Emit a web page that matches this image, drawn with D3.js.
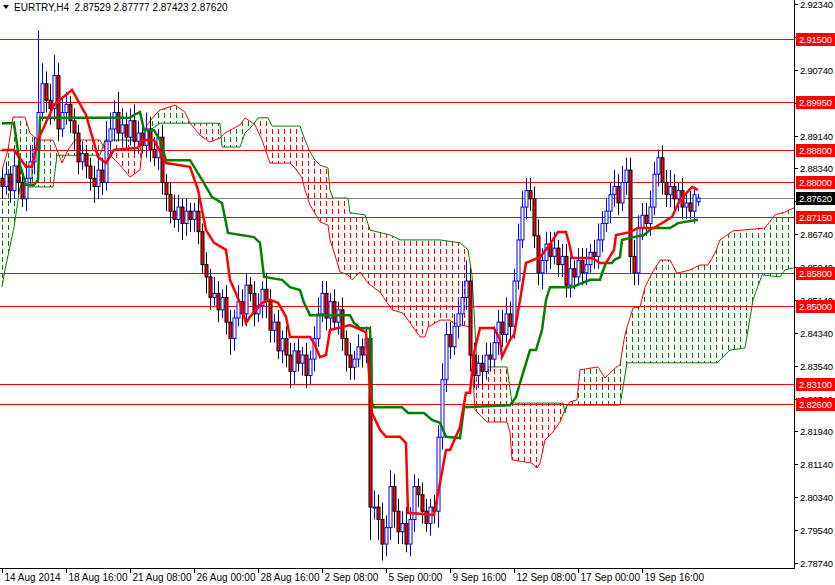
<!DOCTYPE html>
<html><head><meta charset="utf-8">
<script src="https://cdn.jsdelivr.net/npm/d3@7"></script>
<style>body{margin:0;background:#fff}svg{display:block;font-family:"Liberation Sans",Arial,sans-serif}</style>
</head><body><svg id="c" width="835" height="585"></svg>
<script>
const title = "EURTRY,H4  2.87529 2.87777 2.87423 2.87620";
const closes = [
2.879,2.882,2.878,2.884,2.880,2.876,2.881,2.885,
2.888,2.897,2.904,2.900,2.898,2.906,2.893,2.897,
2.899,2.895,2.892,2.885,2.887,2.884,2.881,2.879,
2.883,2.880,2.890,2.893,2.897,2.892,2.894,2.891,
2.895,2.890,2.892,2.889,2.893,2.888,2.886,2.891,
2.880,2.877,2.873,2.871,2.874,2.870,2.873,2.871,
2.873,2.868,2.860,2.857,2.852,2.853,2.849,2.852,
2.846,2.842,2.847,2.851,2.848,2.855,2.853,2.848,
2.850,2.854,2.851,2.844,2.846,2.839,2.842,2.838,
2.834,2.839,2.836,2.838,2.833,2.837,2.842,2.848,
2.853,2.847,2.851,2.846,2.849,2.842,2.838,2.835,
2.837,2.840,2.838,2.842,2.801,2.801,2.798,2.792,
2.796,2.806,2.800,2.795,2.797,2.792,2.798,2.806,
2.804,2.800,2.797,2.801,2.800,2.818,2.832,2.843,
2.840,2.845,2.848,2.852,2.856,2.838,2.833,2.836,
2.834,2.838,2.837,2.841,2.846,2.843,2.848,2.845,
2.856,2.866,2.874,2.878,2.876,2.867,2.858,2.861,
2.865,2.862,2.864,2.860,2.862,2.855,2.859,2.857,
2.861,2.858,2.860,2.863,2.862,2.866,2.870,2.873,
2.877,2.879,2.875,2.880,2.883,2.862,2.858,2.869,
2.872,2.870,2.874,2.882,2.886,2.880,2.877,2.879,
2.876,2.878,2.874,2.875,2.873,2.877,2.8762];
const wickUp = [2,3,2,4,2,3,3,4, 3,20,5,3,4,5,3,4, 3,2,3,2,3,2,2,3, 4,3,5,4,3,5,4,3,
3,4,3,3,4,3,3,2, 3,2,3,4,3,2,3,2, 2,3,2,3,2,4,3,2, 3,3,2,4,3,3,2,3, 3,2,4,3,2,3,2,3,
3,2,3,2,3,2,3,4, 3,3,2,3,2,3,2,3, 2,3,2,3,3,4,3,4, 3,4,3,3,3,4,3,3, 2,3,3,2,3,3,4,3,
3,3,3,4,5,3,3,2, 2,3,3,4,3,3,4,3, 3,4,4,3,3,3,4,3, 3,3,4,2,3,3,3,2, 3,3,4,2,3,4,3,3,
3,4,3,4,3,3,4,3, 3,3,4,3,2,3,3,4, 3,2,3,2,3,2,1];
const wickDn = [3,2,3,2,3,2,3,2, 3,3,2,3,4,3,3,2, 3,3,4,3,2,3,3,4, 3,3,2,3,3,2,3,3,
2,3,3,2,3,3,2,3, 3,4,3,2,3,4,3,3, 3,3,2,4,3,2,3,2, 3,4,3,2,3,3,2,3, 2,3,4,3,3,2,3,3,
4,3,2,3,3,2,3,2, 2,3,3,2,3,3,4,3, 3,2,3,2,8,3,5,4, 3,3,4,3,3,2,3,3, 3,3,2,3,3,4,3,3,
3,2,3,3,3,4,3,3, 3,2,3,2,3,3,2,3, 3,2,2,3,3,3,3,4, 3,3,2,3,3,3,3,3, 2,3,3,2,3,3,3,2,
3,3,3,2,3,4,3,3, 3,3,3,2,3,3,3,3, 3,3,3,3,2,3,1];
const tenkan = [[0,2.8879],[3,2.8879],[6,2.8838],[7.5,2.8838],[9,2.8903],[13,2.8989],[17.5,2.9025],[21,2.8964],[24,2.8862],[26,2.8847],[28,2.8879],[34,2.8884],[35,2.8903],[38,2.8903],[41,2.8847],[47,2.8838],[49,2.8782],[51,2.8684],[53,2.8653],[56,2.8636],[57,2.8563],[59.5,2.8507],[61,2.8458],[62,2.8473],[65,2.8507],[67,2.8514],[69,2.8507],[71,2.8473],[72,2.8424],[77,2.8424],[78,2.8409],[79.5,2.8375],[81,2.8380],[82,2.8441],[87,2.8453],[91,2.8436],[92.5,2.8239],[94.5,2.8198],[96,2.8181],[99.5,2.8181],[101,2.8166],[101.5,2.7996],[108,2.7991],[109.5,2.8069],[111,2.8149],[112,2.8149],[114.5,2.8205],[116,2.8288],[117,2.8288],[118,2.8385],[119.5,2.8446],[123,2.8446],[124.5,2.8417],[125,2.8375],[127,2.8417],[128,2.8429],[129.5,2.8514],[131,2.8604],[134.5,2.8618],[136.5,2.8643],[139,2.8679],[141,2.8679],[142,2.8643],[142.5,2.8616],[147.5,2.8616],[149.5,2.8604],[151,2.8604],[153,2.8636],[153.5,2.8672],[157,2.8679],[159,2.8689],[163,2.8689],[167.5,2.8716],[169.5,2.8757],[172.5,2.8789],[174,2.8782]];
const kijun = [[0,2.8944],[3,2.8944],[4.5,2.8842],[6,2.8794],[8,2.8794],[9,2.8806],[9.5,2.8957],[32,2.8957],[33,2.8964],[34.5,2.8971],[35.5,2.8927],[38,2.8927],[39.5,2.8903],[41,2.8854],[47,2.8854],[50,2.8806],[52.5,2.8764],[55,2.8750],[55.5,2.8726],[56.5,2.8677],[63,2.8667],[64.5,2.8653],[65.5,2.8570],[70,2.8563],[72,2.8545],[74.5,2.8538],[75.5,2.8507],[77,2.8477],[87,2.8477],[88,2.8458],[89.5,2.8445],[92,2.8445],[92.5,2.8263],[93,2.8253],[100,2.8253],[101.5,2.8239],[105.5,2.8239],[107.5,2.8222],[109.5,2.8215],[111,2.8181],[114.5,2.8178],[115.5,2.8253],[127,2.8258],[128.5,2.8278],[129.5,2.8312],[132,2.8392],[133.5,2.8392],[135,2.8441],[136,2.8514],[137,2.8545],[142.5,2.8545],[147,2.8563],[149.5,2.8563],[150,2.8579],[151,2.8604],[152.5,2.8604],[153,2.8611],[154.5,2.8618],[155,2.8660],[157,2.8665],[160.5,2.8672],[162.5,2.8689],[167,2.8689],[169,2.8701],[174,2.8709]];
const spanA = [[0,2.8830],[1.5,2.8879],[2.75,2.8959],[5.75,2.8959],[7,2.8920],[9,2.8903],[12.75,2.8903],[13.75,2.8879],[15,2.8847],[16.5,2.8879],[18.25,2.8903],[24.5,2.8903],[25.75,2.8879],[29.5,2.8842],[32,2.8813],[34.5,2.8830],[35.25,2.8903],[36.25,2.8940],[38.25,2.8964],[39.5,2.8976],[43.25,2.8988],[45.75,2.8971],[47,2.8944],[49.5,2.8915],[52,2.8898],[54.5,2.8908],[55.75,2.8920],[59.5,2.8940],[60.75,2.8957],[63.25,2.8940],[65,2.8903],[67,2.8847],[72,2.8847],[73.25,2.8835],[75,2.8811],[75.75,2.8781],[77,2.8745],[79.5,2.8704],[81.5,2.8696],[82,2.8660],[83.25,2.8623],[84.5,2.8582],[86.5,2.8575],[87.5,2.8563],[89.5,2.8582],[91.5,2.8555],[94.5,2.8533],[97.5,2.8490],[100.25,2.8482],[102.75,2.8448],[104.5,2.8424],[105.75,2.8424],[106.5,2.8448],[109.5,2.8465],[112,2.8465],[112.75,2.8458],[117,2.8448],[118.25,2.8246],[121.25,2.8217],[126.25,2.8217],[127,2.8193],[127.5,2.8125],[132.5,2.8117],[133.75,2.8105],[134.5,2.8117],[135.75,2.8173],[137.75,2.8193],[139.5,2.8217],[141,2.8253],[142,2.8266],[143.75,2.8271],[144.5,2.8344],[149,2.8351],[150.75,2.8324],[153.25,2.8348],[154.5,2.8356],[155.5,2.8417],[156.25,2.8448],[157.75,2.8494],[159.5,2.8497],[160.75,2.8545],[162.5,2.8579],[164.5,2.8611],[167,2.8611],[168.75,2.8579],[172,2.8587],[174.5,2.8599],[176.5,2.8599],[178.25,2.8628],[179.5,2.8660],[182.75,2.8682],[190.75,2.8689],[193.25,2.8721],[195.75,2.8728],[198,2.8738]];
const spanB = [[0,2.8545],[0.75,2.8587],[3,2.8691],[4.5,2.8789],[12.75,2.8789],[13.75,2.8866],[24.5,2.8866],[25.75,2.8903],[35.25,2.8903],[37,2.8927],[39.5,2.8944],[54.5,2.8944],[55,2.8886],[59.5,2.8886],[60.75,2.8920],[62.75,2.8940],[64,2.8957],[66.5,2.8957],[67.5,2.8937],[74.5,2.8937],[75.75,2.8903],[77,2.8874],[78.25,2.8854],[79.5,2.8842],[81.5,2.8835],[82,2.8781],[82.75,2.8762],[86.5,2.8762],[87,2.8726],[90.75,2.8721],[92,2.8684],[97,2.8672],[99.5,2.8660],[109.5,2.8660],[114.5,2.8653],[116.5,2.8636],[117.5,2.8575],[118.75,2.8351],[126.25,2.8351],[127.5,2.8263],[140.25,2.8263],[140.75,2.8239],[141.25,2.8258],[154.5,2.8258],[156.25,2.8361],[178.75,2.8361],[182,2.8392],[185.75,2.8397],[187.75,2.8514],[190,2.8575],[194.5,2.8570],[195.75,2.8587],[198,2.8592]];
const levels = [2.9150,2.8995,2.8880,2.8800,2.8715,2.8580,2.8500,2.8310,2.8260];
const lastPrice = 2.8762;
const yTicks = [2.9234,2.9154,2.9074,2.8994,2.8914,2.8834,2.8754,2.8674,2.8594,2.8514,2.8434,2.8354,2.8274,2.8194,2.8114,2.8034,2.7954,2.7874];
const xTickBars = [0,16,32,48,64,80,96,112,128,144,160];
const xTickLabels = ["14 Aug 2014","18 Aug 16:00","21 Aug 08:00","26 Aug 00:00","28 Aug 16:00","2 Sep 08:00","5 Sep 00:00","9 Sep 16:00","12 Sep 08:00","17 Sep 00:00","19 Sep 16:00"];

const svg = d3.select("#c");
const R = 794, B = 568;
const x = d3.scaleLinear().domain([0,174]).range([2,698]);
const y = d3.scaleLinear().domain([2.7874,2.9234]).range([563,4]);

const defs = svg.append("defs");
[["hr","#ff0000"],["hg","#008000"]].forEach(([id,c])=>{
  const p = defs.append("pattern").attr("id",id).attr("patternUnits","userSpaceOnUse").attr("width",6).attr("height",8);
  p.append("rect").attr("x",2).attr("y",1).attr("width",1).attr("height",5).attr("fill",c);
});
defs.append("clipPath").attr("id","plot").append("rect").attr("width",R).attr("height",B);
const g = svg.append("g").attr("clip-path","url(#plot)");

const interp = (pts,i)=>{ for(let k=1;k<pts.length;k++){ if(i<=pts[k][0]){const a=pts[k-1],b=pts[k];const t=(i-a[0])/(b[0]-a[0]||1);return a[1]+t*(b[1]-a[1]);} } return pts[pts.length-1][1]; };
const samples = d3.range(0,198.01,0.25).map(i=>({i,a:interp(spanA,i),b:interp(spanB,i)}));
g.append("path").datum(samples).attr("fill","url(#hr)")
  .attr("d",d3.area().x(d=>x(d.i)).y0(d=>y(d.a)).y1(d=>y(Math.max(d.a,d.b))));
g.append("path").datum(samples).attr("fill","url(#hg)")
  .attr("d",d3.area().x(d=>x(d.i)).y0(d=>y(d.b)).y1(d=>y(Math.max(d.a,d.b))));
const ln = d3.line().x(d=>x(d[0])).y(d=>y(d[1]));
g.append("path").datum(spanA).attr("fill","none").attr("stroke","#ff0000").attr("stroke-width",1).attr("d",ln);
g.append("path").datum(spanB).attr("fill","none").attr("stroke","#008000").attr("stroke-width",1).attr("d",ln);

levels.forEach(v=>g.append("line").attr("x1",0).attr("x2",R).attr("y1",Math.round(y(v))+0.5).attr("y2",Math.round(y(v))+0.5).attr("stroke","#ff0000"));
g.append("line").attr("x1",0).attr("x2",R).attr("y1",Math.round(y(lastPrice))+0.5).attr("y2",Math.round(y(lastPrice))+0.5).attr("stroke","#808080");

closes.forEach((c,i)=>{
  const o = i===0 ? 2.881 : (i===closes.length-1 ? 2.87529 : closes[i-1]);
  const up = c>=o;
  const hi = Math.max(o,c)+wickUp[i]*0.001, lo = Math.min(o,c)-wickDn[i]*0.001;
  const cx = Math.round(x(i))+0.5;
  g.append("line").attr("x1",cx).attr("x2",cx).attr("y1",y(hi)).attr("y2",y(lo)).attr("stroke",up?"#0000ff":"#000");
  const top=y(Math.max(o,c)), bot=y(Math.min(o,c));
  g.append("rect").attr("x",cx-1.5).attr("y",top).attr("width",3).attr("height",Math.max(1,bot-top))
    .attr("fill",up?"#fff":"#ff0000").attr("stroke",up?"#0000ff":"#000").attr("stroke-width",1);
});

g.append("path").datum(kijun).attr("fill","none").attr("stroke","#008000").attr("stroke-width",2.5).attr("d",ln);
g.append("path").datum(tenkan).attr("fill","none").attr("stroke","#ff0000").attr("stroke-width",2.5).attr("d",ln);

svg.append("line").attr("x1",R+0.5).attr("x2",R+0.5).attr("y1",0).attr("y2",B+1).attr("stroke","#000");
svg.append("line").attr("x1",0).attr("x2",R+1).attr("y1",B+0.5).attr("y2",B+0.5).attr("stroke","#000");
const FS = 9.5;
yTicks.forEach(v=>{
  const yy=Math.round(y(v))+0.5;
  svg.append("line").attr("x1",R).attr("x2",R+4).attr("y1",yy).attr("y2",yy).attr("stroke","#000");
  svg.append("text").attr("x",R+6).attr("y",yy+3.5).attr("font-size",FS).attr("textLength",33).attr("fill","#000").text(v.toFixed(5));
});
xTickBars.forEach((b,k)=>{
  const xx=Math.round(x(b))+0.5;
  svg.append("line").attr("x1",xx).attr("x2",xx).attr("y1",B).attr("y2",B+5).attr("stroke","#000");
  svg.append("text").attr("x",xx+2).attr("y",B+13).attr("font-size",10).attr("fill","#000").text(xTickLabels[k]);
});
const tag=(v,bg)=>{
  const yy=Math.round(y(v));
  svg.append("rect").attr("x",R+2).attr("y",yy-6).attr("width",39).attr("height",13).attr("fill",bg);
  svg.append("text").attr("x",R+5).attr("y",yy+4).attr("font-size",FS).attr("textLength",33).attr("fill","#fff").text(v.toFixed(5));
};
levels.forEach(v=>tag(v,"#ff0000"));
tag(lastPrice,"#000");

svg.append("path").attr("d","M3,5 L9,5 L6,9 Z").attr("fill","#000");
svg.append("text").attr("x",14).attr("y",11).attr("font-size",10).attr("fill","#000").attr("xml:space","preserve").text(title);
</script></body></html>
